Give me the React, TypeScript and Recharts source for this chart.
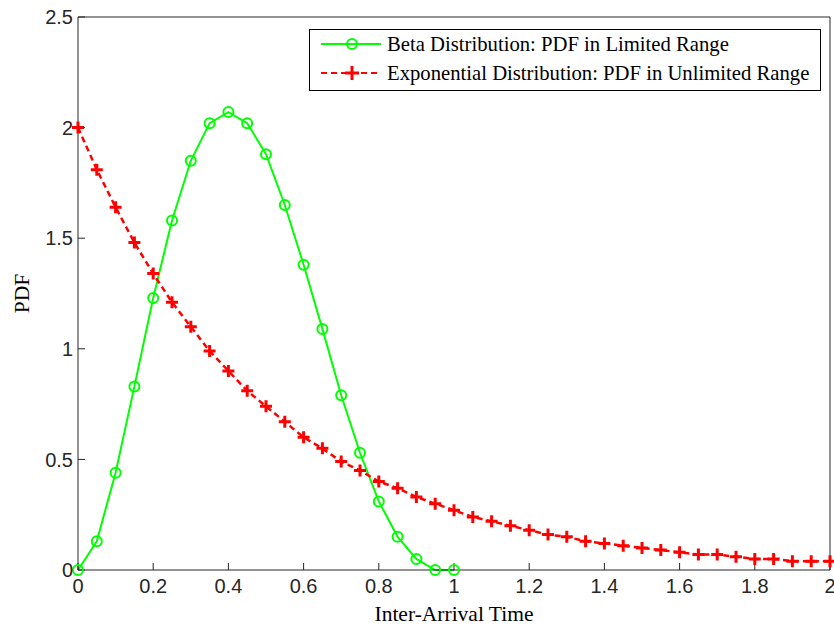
import { LineChart, Line, XAxis, YAxis, Legend, Label } from "recharts";

const betaTime = [0, 0.05, 0.1, 0.15, 0.2, 0.25, 0.3, 0.35, 0.4, 0.45, 0.5, 0.55, 0.6, 0.65, 0.7, 0.75, 0.8, 0.85, 0.9, 0.95, 1.0];
const betaPdf = [0, 0.13, 0.44, 0.83, 1.23, 1.58, 1.85, 2.02, 2.07, 2.02, 1.88, 1.65, 1.38, 1.09, 0.79, 0.53, 0.31, 0.15, 0.05, 0.0, 0.0];

const expTime = [
  0, 0.05, 0.1, 0.15, 0.2, 0.25, 0.3, 0.35, 0.4, 0.45, 0.5, 0.55, 0.6, 0.65, 0.7, 0.75, 0.8, 0.85, 0.9, 0.95, 1.0,
  1.05, 1.1, 1.15, 1.2, 1.25, 1.3, 1.35, 1.4, 1.45, 1.5, 1.55, 1.6, 1.65, 1.7, 1.75, 1.8, 1.85, 1.9, 1.95, 2.0,
];
const expPdf = [
  2.0, 1.81, 1.64, 1.48, 1.34, 1.21, 1.1, 0.99, 0.9, 0.81, 0.74, 0.67, 0.6, 0.55, 0.49, 0.45, 0.4, 0.37, 0.33, 0.3, 0.27,
  0.24, 0.22, 0.2, 0.18, 0.16, 0.15, 0.13, 0.12, 0.11, 0.1, 0.09, 0.08, 0.07, 0.07, 0.06, 0.05, 0.05, 0.04, 0.04, 0.04,
];

const xTicks = [0, 0.2, 0.4, 0.6, 0.8, 1, 1.2, 1.4, 1.6, 1.8, 2];
const yTicks = [0, 0.5, 1, 1.5, 2, 2.5];

const betaLabel = "Beta Distribution: PDF in Limited Range";
const expLabel = "Exponential Distribution: PDF in Unlimited Range";

const betaData = betaTime.map((x, i) => ({ x, y: betaPdf[i] }));
const expData = expTime.map((x, i) => ({ x, y: expPdf[i] }));

const AXIS = "#262626";
const GREEN = "#00ff00";
const RED = "#ff0000";
const SERIF = '"Liberation Serif", "Times New Roman", serif';
const SANS = '"Liberation Sans", Arial, sans-serif';

const PlusDot = (p: any) => {
  if (p.cx == null || p.cy == null) return <g key={p.key ?? p.index} />;
  return (
    <path
      key={p.key ?? p.index}
      d={`M${p.cx - 6},${p.cy}h12M${p.cx},${p.cy - 6}v12`}
      stroke={RED}
      strokeWidth={3}
      fill="none"
    />
  );
};

const LegendBox = () => (
  <svg width={512} height={62} style={{ display: "block" }}>
    <rect x={0.5} y={0.5} width={511} height={61} fill="#fff" stroke="#000" strokeWidth={1} />
    <line x1={12} x2={72} y1={15} y2={15} stroke={GREEN} strokeWidth={2} />
    <circle cx={43} cy={15} r={5} fill="none" stroke={GREEN} strokeWidth={2} />
    <text x={78} y={22} fontFamily={SERIF} fontSize={20.7} fill="#000">
      {betaLabel}
    </text>
    <line x1={12} x2={72} y1={44} y2={44} stroke={RED} strokeWidth={2} strokeDasharray="6 4" />
    <path d="M36,44h14M43,37v14" stroke={RED} strokeWidth={3} fill="none" />
    <text x={78} y={51} fontFamily={SERIF} fontSize={20.7} fill="#000">
      {expLabel}
    </text>
  </svg>
);

const YLabel = (props: any) => {
  const vb = props.viewBox || { x: 0, y: 17, width: 78, height: 553 };
  const cx = vb.x + 22;
  const cy = vb.y + vb.height / 2;
  return (
    <text
      x={cx}
      y={cy}
      transform={`rotate(-90, ${cx}, ${cy})`}
      textAnchor="middle"
      dominantBaseline="central"
      fontFamily={SERIF}
      fontSize={21.5}
      fill="#000"
    >
      PDF
    </text>
  );
};

export default function App() {
  return (
    <div style={{ position: "absolute", left: 0, top: 0, background: "#fff" }}>
      <LineChart width={834} height={625} margin={{ top: 16, right: 3, bottom: 0, left: 0 }}>
        <XAxis
          xAxisId="bottom"
          dataKey="x"
          type="number"
          domain={[0, 2]}
          ticks={xTicks}
          interval={0}
          orientation="bottom"
          height={55}
          stroke={AXIS}
          tickSize={-7}
          tickMargin={16}
          tick={{ fill: AXIS, fontSize: 20, fontFamily: SANS }}
        >
          <Label
            value="Inter-Arrival Time"
            position="insideBottom"
            offset={4}
            style={{ fontFamily: SERIF, fontSize: 21.5, fill: "#000" }}
          />
        </XAxis>
        <XAxis
          xAxisId="top"
          dataKey="x"
          type="number"
          domain={[0, 2]}
          ticks={xTicks}
          interval={0}
          orientation="top"
          height={1}
          stroke={AXIS}
          tickSize={-7}
          tick={false}
        />
        <YAxis
          yAxisId="left"
          type="number"
          domain={[0, 2.5]}
          ticks={yTicks}
          interval={0}
          orientation="left"
          width={78}
          stroke={AXIS}
          tickSize={-7}
          tickMargin={12}
          tick={{ fill: AXIS, fontSize: 20, fontFamily: SANS }}
        >
          <Label content={YLabel} />
        </YAxis>
        <YAxis
          yAxisId="right"
          type="number"
          domain={[0, 2.5]}
          ticks={yTicks}
          interval={0}
          orientation="right"
          width={1}
          stroke={AXIS}
          tickSize={-7}
          tick={false}
        />
        <Legend
          layout="vertical"
          align="center"
          verticalAlign="middle"
          content={LegendBox}
          wrapperStyle={{ position: "absolute", left: 309, top: 29, width: 512, height: 62 }}
        />
        <Line
          data={betaData}
          xAxisId="bottom"
          yAxisId="left"
          dataKey="y"
          name={betaLabel}
          type="linear"
          stroke={GREEN}
          strokeWidth={2}
          dot={{ r: 5, stroke: GREEN, strokeWidth: 2, fill: "none" }}
          activeDot={false}
          isAnimationActive={false}
        />
        <Line
          data={expData}
          xAxisId="bottom"
          yAxisId="left"
          dataKey="y"
          name={expLabel}
          type="linear"
          stroke={RED}
          strokeWidth={2.5}
          strokeDasharray="6 4"
          dot={PlusDot}
          activeDot={false}
          isAnimationActive={false}
        />
      </LineChart>
    </div>
  );
}
